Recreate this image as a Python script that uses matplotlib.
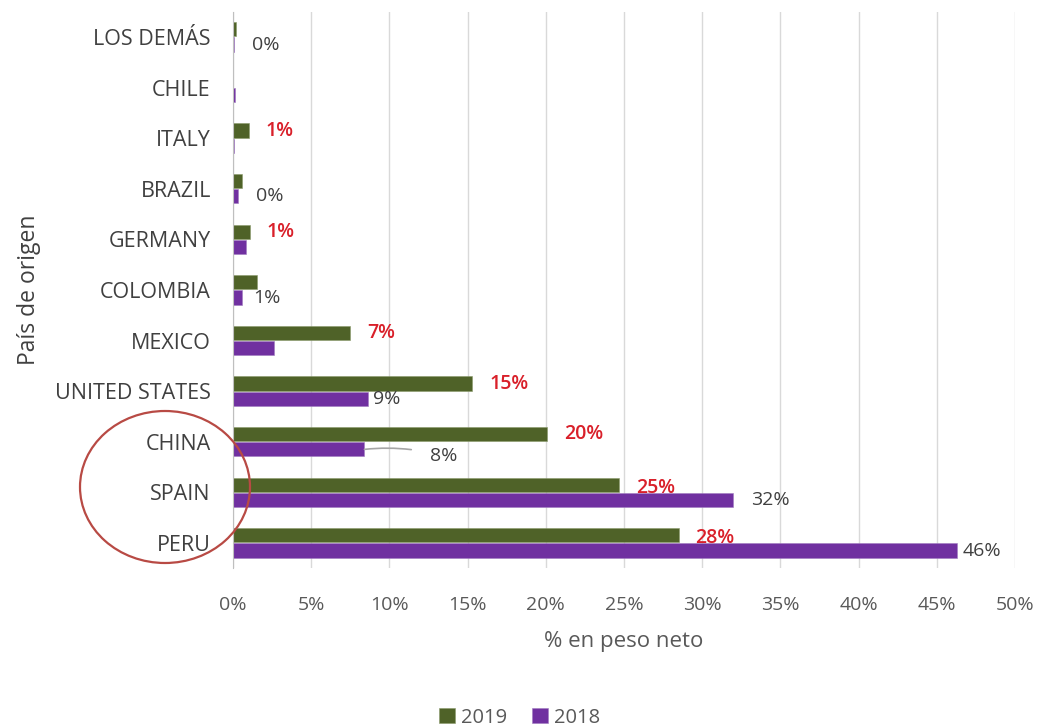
import matplotlib
matplotlib.use("Agg")
import matplotlib.pyplot as plt
from matplotlib.patches import Ellipse
from matplotlib.ticker import FuncFormatter

plt.rcParams['font.family'] = ['Open Sans', 'DejaVu Sans']

countries = ["PERU", "SPAIN", "CHINA", "UNITED STATES", "MEXICO", "COLOMBIA",
             "GERMANY", "BRAZIL", "ITALY", "CHILE", "LOS DEMÁS"]
v2019 = [28.5, 24.7, 20.1, 15.3, 7.5, 1.5, 1.1, 0.6, 1.0, 0.0, 0.2]
v2018 = [46.3, 32.0, 8.4, 8.6, 2.6, 0.6, 0.85, 0.3, 0.05, 0.15, 0.07]
labels2019 = ["28%", "25%", "20%", "15%", "7%", "", "1%", "", "1%", "", ""]
labels2018 = ["46%", "32%", "8%", "9%", "", "1%", "", "0%", "", "", "0%"]
xticks = [0, 5, 10, 15, 20, 25, 30, 35, 40, 45, 50]

green = "#4F6228"
purple = "#7030A0"
red = "#D9202A"
gray_txt = "#404040"

fig = plt.figure(figsize=(10.39, 7.27), dpi=100)
ax = fig.add_axes([0.2243, 0.2183, 0.7526, 0.7657])

h = 0.28
ys = list(range(len(countries)))
ax.barh([y + h / 2 + 0.01 for y in ys], v2019, height=h, color=green, label="2019",
        edgecolor="#8a9a6a", linewidth=0.4, zorder=3)
ax.barh([y - h / 2 - 0.01 for y in ys], v2018, height=h, color=purple, label="2018",
        edgecolor="#a07cc0", linewidth=0.4, zorder=3)

ax.set_ylim(-0.5, 10.5)
ax.set_xlim(0, 50)
ax.set_xticks(xticks)
ax.xaxis.set_major_formatter(FuncFormatter(lambda v, p: f"{v:.0f}%"))
ax.set_yticks(ys)
ax.set_yticklabels(countries)
ax.tick_params(axis='y', length=0, pad=16, labelsize=15.5, labelcolor=gray_txt)
ax.tick_params(axis='x', length=0, pad=20, labelsize=14, labelcolor="#595959")
ax.grid(axis='x', color="#D9D9D9", linewidth=1.0, zorder=0)
for s in ["top", "right", "bottom"]:
    ax.spines[s].set_visible(False)
ax.spines["left"].set_color("#BFBFBF")
ax.spines["left"].set_zorder(4)

ax.set_xlabel("% en peso neto", fontsize=16, color="#595959", labelpad=12)
ax.set_ylabel("País de origen", fontsize=16.5, color=gray_txt, labelpad=10)

# data labels 2019 (red, semibold)
for i, (v, t) in enumerate(zip(v2019, labels2019)):
    if t:
        dy = -0.06 if v > 22 else 0.0
        ax.annotate(t, (v, i + h / 2 + 0.01 + dy), xytext=(12, 0), textcoords="offset points",
                    ha="left", va="center", fontsize=14, fontweight="semibold", color=red, zorder=5)

# data labels 2018 (gray)
gray_off = {"46%": 4, "32%": 13, "9%": 4, "1%": 8, "0%": 13}
for i, (v, t) in enumerate(zip(v2018, labels2018)):
    if not t:
        continue
    yb = i - h / 2 - 0.01
    if t == "8%":
        ax.annotate(t, (v, yb), xytext=(v + 5.1, yb - 0.14),
                    ha="center", va="center", fontsize=14, color=gray_txt, zorder=5,
                    arrowprops=dict(arrowstyle="-", color="#A6A6A6", lw=1.2,
                                    connectionstyle="arc3,rad=0.1", shrinkA=12, shrinkB=0))
    else:
        ax.annotate(t, (v, yb), xytext=(gray_off[t], 0),
                    textcoords="offset points", ha="left", va="center",
                    fontsize=14, color=gray_txt, zorder=5)

# legend
handles, lbls = ax.get_legend_handles_labels()
fig.legend(handles, lbls, loc="center", bbox_to_anchor=(0.5, 0.013), ncol=2, frameon=False,
           fontsize=14.5, handlelength=0.8, handleheight=0.8, handletextpad=0.3,
           columnspacing=1.2, labelcolor="#595959")

# red circle annotation
ell = Ellipse((165 / 1039, 1 - 487 / 727), 170 / 1039, 152 / 727, transform=fig.transFigure,
              fill=False, edgecolor="#B84A44", linewidth=1.6, zorder=10)
fig.add_artist(ell)

fig.savefig("out.png", dpi=100)
